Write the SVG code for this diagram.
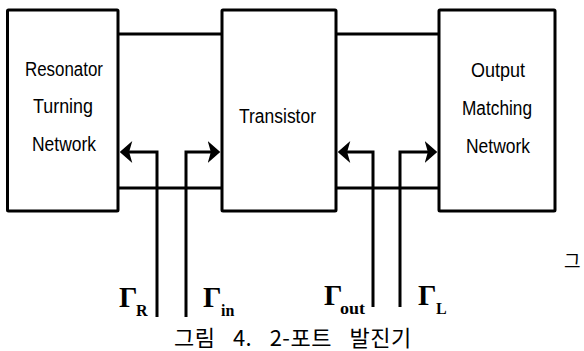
<svg xmlns="http://www.w3.org/2000/svg" width="584" height="351" viewBox="0 0 584 351">
<style>
.box{fill:#fff;stroke:#000;stroke-width:3}
.ln{fill:none;stroke:#000;stroke-width:3;stroke-linejoin:miter}
.t{font-family:"Liberation Sans",Arial,sans-serif;font-size:20px;fill:#000}
.g{font-family:"Liberation Serif","Times New Roman",serif;font-weight:bold;font-size:29px;fill:#000}
.s{font-family:"Liberation Serif","Times New Roman",serif;font-weight:bold;font-size:16px;fill:#000}
.k{font-family:"Noto Sans CJK KR",sans-serif;fill:#000}
</style>
<defs>
<marker id="ah" markerUnits="userSpaceOnUse" markerWidth="13" markerHeight="22" viewBox="0 0 12 21" refX="6" refY="10.5" orient="auto">
<path d="M0,0 L12,10.5 L0,21 L3,10.5 z" fill="#000"/>
</marker>
</defs>
<g id="connectors">
<path class="ln" d="M118,34 H222 M336,34 H439 M118,188 H222 M336,188 H439"/>
<path class="ln" d="M157,317 V152 H126" marker-end="url(#ah)"/>
<path class="ln" d="M186,317 V152 H214" marker-end="url(#ah)"/>
<path class="ln" d="M373,307 V152 H344" marker-end="url(#ah)"/>
<path class="ln" d="M400,307 V152 H431" marker-end="url(#ah)"/>
</g>
<g id="resonator">
<rect class="box" x="7.5" y="10" width="110.5" height="201" rx="1"/>
<text class="t" x="25" y="76" textLength="78" lengthAdjust="spacingAndGlyphs">Resonator</text>
<text class="t" x="33" y="113" textLength="60" lengthAdjust="spacingAndGlyphs">Turning</text>
<text class="t" x="32" y="151" textLength="64" lengthAdjust="spacingAndGlyphs">Network</text>
</g>
<g id="transistor">
<rect class="box" x="222" y="10" width="114" height="201" rx="1"/>
<text class="t" x="239" y="123" textLength="77" lengthAdjust="spacingAndGlyphs">Transistor</text>
</g>
<g id="output">
<rect class="box" x="439" y="10" width="116" height="201" rx="1"/>
<text class="t" x="471" y="77" textLength="54" lengthAdjust="spacingAndGlyphs">Output</text>
<text class="t" x="462" y="115" textLength="70" lengthAdjust="spacingAndGlyphs">Matching</text>
<text class="t" x="466" y="153" textLength="64" lengthAdjust="spacingAndGlyphs">Network</text>
</g>
<g id="labels">
<text class="g" x="119" y="307">Γ</text><text class="s" x="136" y="316">R</text>
<text class="g" x="203" y="307">Γ</text><text class="s" x="221" y="316">in</text>
<text class="g" x="324" y="305">Γ</text><text class="s" x="340" y="314" textLength="25" lengthAdjust="spacingAndGlyphs">out</text>
<text class="g" x="418" y="305">Γ</text><text class="s" x="436" y="314">L</text>
</g>
<text class="k" x="564" y="268" font-size="18">그</text>
<text class="k" x="174" y="346" font-size="22" word-spacing="12" letter-spacing="0.5">그림 4. 2-포트 발진기</text>
</svg>
